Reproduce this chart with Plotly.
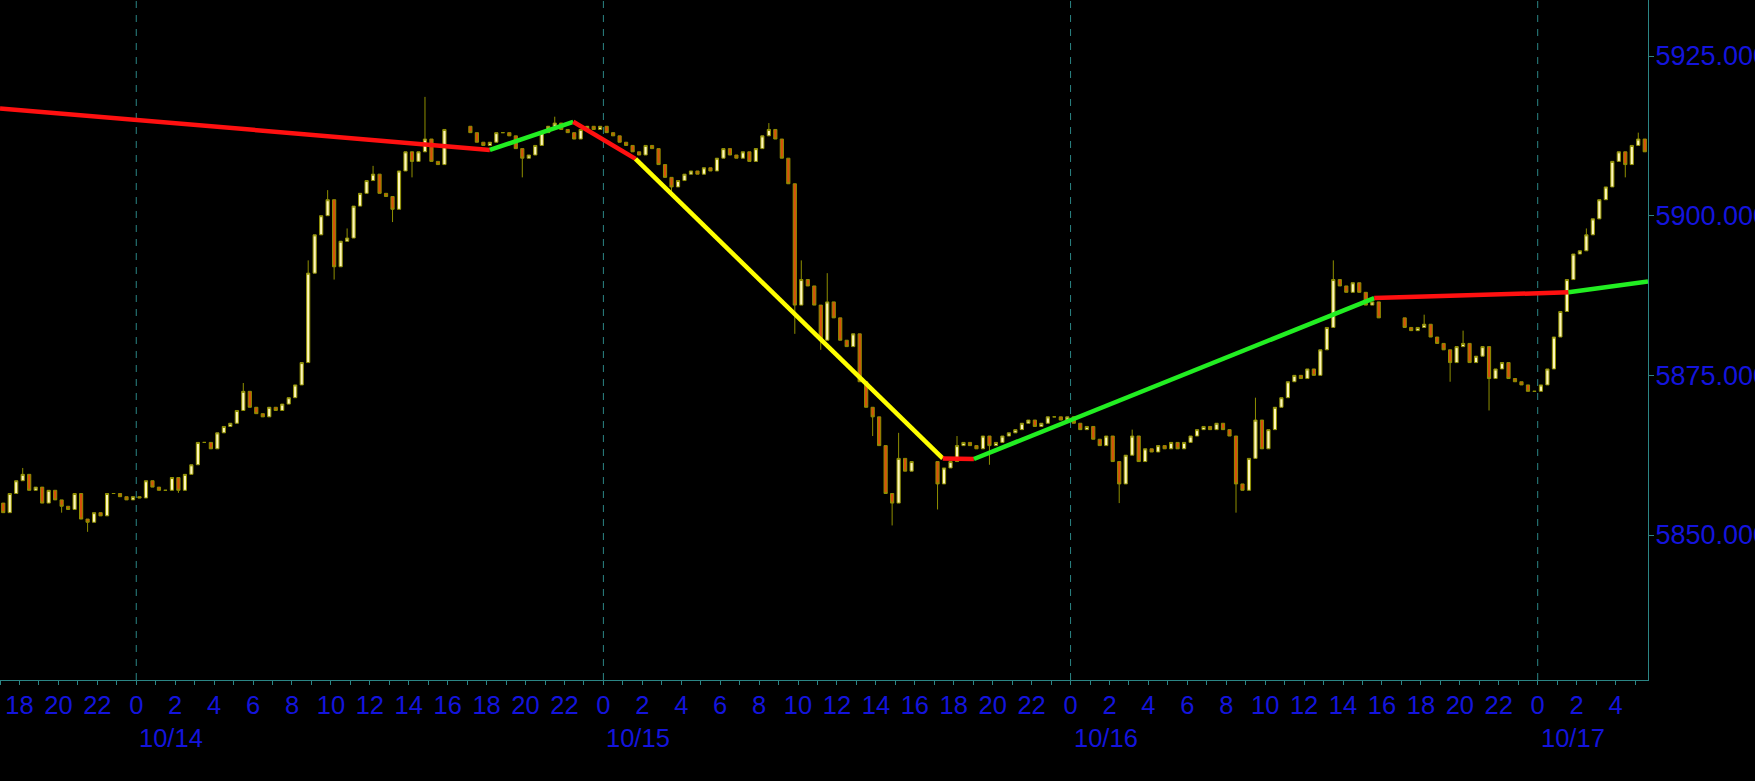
import pandas as pd
import plotly.graph_objects as go

BASE = pd.Timestamp("2024-10-14 00:00")
BAR_MIN = 20

# ---- price data: 20-minute closes per trading session (hours from 10/14 00:00) ----
sess_a_start = -7.0
sess_a_open = 5855.0
sess_a_close = [
    5853.5, 5856.5, 5858.5, 5859.5, 5857.0, 5857.5, 5855.0, 5857.0, 5855.5, 5854.5,
    5854.0, 5856.5, 5852.5, 5852.0, 5853.5, 5853.0, 5856.5, 5856.5, 5856.0, 5855.5,
    5856.0, 5855.8, 5858.5, 5857.5, 5857.0, 5857.0, 5859.0, 5857.0, 5859.5, 5861.0,
    5864.5, 5864.5, 5863.5, 5866.0, 5867.0, 5867.5, 5869.5, 5872.5, 5870.0, 5869.0,
    5868.5, 5870.0, 5869.5, 5870.5, 5871.5, 5873.5, 5877.0, 5891.0, 5897.0, 5900.0,
    5902.5, 5892.0, 5896.0, 5896.5, 5901.5, 5903.5, 5905.5, 5906.5, 5903.5, 5903.0,
    5901.0, 5907.0, 5910.0, 5908.5, 5910.0, 5912.0, 5908.5, 5908.0, 5913.5,
]

sess_b_start = 17.0
sess_b_open = 5914.0
sess_b_close = [
    5913.0, 5911.5, 5911.0, 5911.5, 5913.0, 5913.0, 5912.5, 5910.5, 5909.0, 5909.5,
    5911.0, 5913.0, 5914.0, 5914.5, 5913.5, 5913.0, 5912.0, 5913.5, 5914.0, 5913.5,
    5914.0, 5913.0, 5912.5, 5911.5, 5911.0, 5910.0, 5909.5, 5911.0, 5910.5, 5908.0,
    5906.0, 5904.5, 5905.5, 5906.5, 5907.0, 5906.5, 5907.5, 5907.0, 5909.0, 5910.5,
    5909.5, 5909.0, 5910.0, 5908.5, 5910.5, 5912.5, 5913.5, 5912.0, 5909.0, 5905.0,
    5886.0, 5890.0, 5889.0, 5886.0, 5880.5, 5886.5, 5884.0, 5880.5, 5879.5, 5881.5,
    5874.0, 5870.0, 5868.5, 5864.0, 5856.5, 5855.0, 5862.0, 5860.0, 5861.5,
]

sess_c_start = 41.0
sess_c_open = 5861.5
sess_c_close = [
    5858.0, 5860.5, 5861.5, 5864.0, 5864.5, 5864.0, 5863.5, 5865.5, 5864.0, 5864.5,
    5865.5, 5866.0, 5866.5, 5867.5, 5868.0, 5867.0, 5867.5, 5868.5, 5868.5, 5868.0,
    5868.5, 5867.5, 5866.5, 5867.0, 5865.0, 5864.0, 5865.5, 5861.5, 5858.0, 5862.5,
    5865.5, 5861.5, 5863.5, 5863.0, 5864.0, 5863.5, 5864.5, 5863.5, 5864.5, 5865.5,
    5866.5, 5867.0, 5866.5, 5867.5, 5866.5, 5865.5, 5858.0, 5857.0, 5862.0, 5868.0,
    5863.5, 5866.5, 5870.0, 5871.5, 5874.0, 5875.0, 5874.5, 5876.0, 5875.0, 5879.0,
    5882.5, 5890.0, 5889.0, 5888.0, 5889.5, 5888.0, 5886.0, 5886.5, 5884.0,
]

sess_d_start = 65.0
sess_d_open = 5884.0
sess_d_close = [
    5882.5, 5882.0, 5882.5, 5883.0, 5881.0, 5880.0, 5879.0, 5877.0, 5879.5, 5880.0,
    5877.0, 5878.0, 5879.5, 5874.5, 5876.0, 5877.0, 5874.5, 5874.0, 5873.5, 5872.5,
    5872.5, 5873.5, 5876.0, 5881.0, 5885.0, 5890.0, 5894.0, 5894.5, 5897.0, 5899.5,
    5902.5, 5904.5, 5908.5, 5910.0, 5908.0, 5911.0, 5912.0, 5910.0,
]

# notable wick extremes (bar hour -> price)
wick_high = {-6.0: 5860.5, 5.33: 5873.8, 8.67: 5893.0, 9.67: 5904.0, 10.67: 5898.0,
             12.0: 5907.8, 14.67: 5918.6, 21.33: 5915.5, 32.33: 5914.5, 34.0: 5893.0,
             35.33: 5891.0, 39.0: 5866.0, 42.0: 5865.5, 51.0: 5866.5, 57.33: 5871.5,
             61.33: 5893.0, 66.0: 5884.5, 68.0: 5882.0, 74.33: 5898.0, 77.0: 5913.0}
wick_low = {-2.67: 5850.5, -4.0: 5853.5, 2.0: 5856.6, 10.0: 5890.0, 13.0: 5899.0,
            14.0: 5906.0, 19.67: 5906.0, 27.33: 5903.5, 33.67: 5881.5, 35.0: 5879.0,
            37.67: 5865.5, 38.67: 5851.5, 41.0: 5854.0, 43.67: 5861.0, 50.33: 5855.0,
            56.33: 5853.5, 67.33: 5874.0, 69.33: 5869.5, 76.33: 5906.0}

# ---- trend-line overlay (vertices) ----
seg_hours = [-7.0, 18.17, 22.45, 25.65, 41.43, 43.04, 63.6, 73.58, 77.67]
seg_prices = [5916.8, 5910.3, 5914.7, 5908.9, 5862.0, 5861.9, 5887.1, 5888.0, 5889.7]
seg_colors = ["#ff1010", "#22ee22", "#ff1010", "#ffff00", "#ff1010", "#22ee22", "#ff1010", "#22ee22"]

# ---- axis labels ----
y_ticks = [5850, 5875, 5900, 5925]
date_labels = ["10/14", "10/15", "10/16", "10/17"]
date_hours = [0, 24, 48, 72]

TEAL = "#2b8585"
BLUE = "#1414dc"
FONT = "Liberation Sans, Arial, sans-serif"


def hours_to_ts(h):
    return BASE + pd.Timedelta(minutes=round(h * 60))


xs, o, hi, lo, c = [], [], [], [], []
for start, op, closes in [(sess_a_start, sess_a_open, sess_a_close),
                          (sess_b_start, sess_b_open, sess_b_close),
                          (sess_c_start, sess_c_open, sess_c_close),
                          (sess_d_start, sess_d_open, sess_d_close)]:
    prev = op
    for i, cl in enumerate(closes):
        h = round(start + i * BAR_MIN / 60, 2)
        xs.append(hours_to_ts(h) + pd.Timedelta(minutes=BAR_MIN / 2))
        o.append(prev)
        c.append(cl)
        hi.append(max(prev, cl, wick_high.get(h, -1e9)))
        lo.append(min(prev, cl, wick_low.get(h, 1e9)))
        prev = cl

fig = go.Figure()
fig.add_trace(go.Candlestick(
    x=xs, open=o, high=hi, low=lo, close=c,
    increasing=dict(line=dict(color="#8f8f00", width=1), fillcolor="#fff6b8"),
    decreasing=dict(line=dict(color="#8f8f00", width=1), fillcolor="#d8500c"),
    whiskerwidth=0, hoverinfo="skip", showlegend=False,
))

for i, col in enumerate(seg_colors):
    fig.add_trace(go.Scatter(
        x=[hours_to_ts(seg_hours[i]), hours_to_ts(seg_hours[i + 1])],
        y=[seg_prices[i], seg_prices[i + 1]],
        mode="lines", line=dict(color=col, width=4.5), hoverinfo="skip", showlegend=False,
    ))

for dh in date_hours:
    fig.add_vline(x=hours_to_ts(dh), line=dict(color=TEAL, width=1, dash="7px,7px"), layer="below")

for lbl, dh in zip(date_labels, date_hours):
    fig.add_annotation(x=hours_to_ts(dh), y=0, xref="x", yref="paper", text=lbl,
                       showarrow=False, xanchor="left", yanchor="middle", xshift=1, yshift=-58,
                       font=dict(family=FONT, size=25.5, color=BLUE))

fig.update_layout(
    width=1755, height=781,
    margin=dict(l=0, r=107, t=0, b=101),
    paper_bgcolor="black", plot_bgcolor="black",
    showlegend=False,
    xaxis=dict(
        type="date", rangeslider=dict(visible=False),
        range=[hours_to_ts(-7.0), hours_to_ts(77.67)],
        tickmode="linear", tick0=BASE, dtick=2 * 3600 * 1000, tickformat="%-H",
        ticks="outside", ticklen=4, tickcolor=TEAL, tickwidth=1,
        minor=dict(dtick=3600 * 1000, ticks="outside", ticklen=4, tickcolor=TEAL, showgrid=False),
        showline=True, linecolor=TEAL, linewidth=1, showgrid=False, zeroline=False,
        tickfont=dict(family=FONT, size=25.5, color=BLUE), automargin=False,
        ticklabelstandoff=-2,
    ),
    yaxis=dict(
        side="right", range=[5827.3, 5933.77],
        tickmode="array", tickvals=y_ticks, ticktext=[f"{v:.3f}" for v in y_ticks],
        ticks="outside", ticklen=5, tickcolor=TEAL,
        showline=True, linecolor=TEAL, linewidth=1, showgrid=False, zeroline=False,
        tickfont=dict(family=FONT, size=27, color=BLUE), automargin=False,
        ticklabelstandoff=-4,
    ),
)

fig.write_html(
    "out.html",
    config={"displayModeBar": False},
    post_script="document.body.style.margin='0';document.body.style.background='black';",
)
